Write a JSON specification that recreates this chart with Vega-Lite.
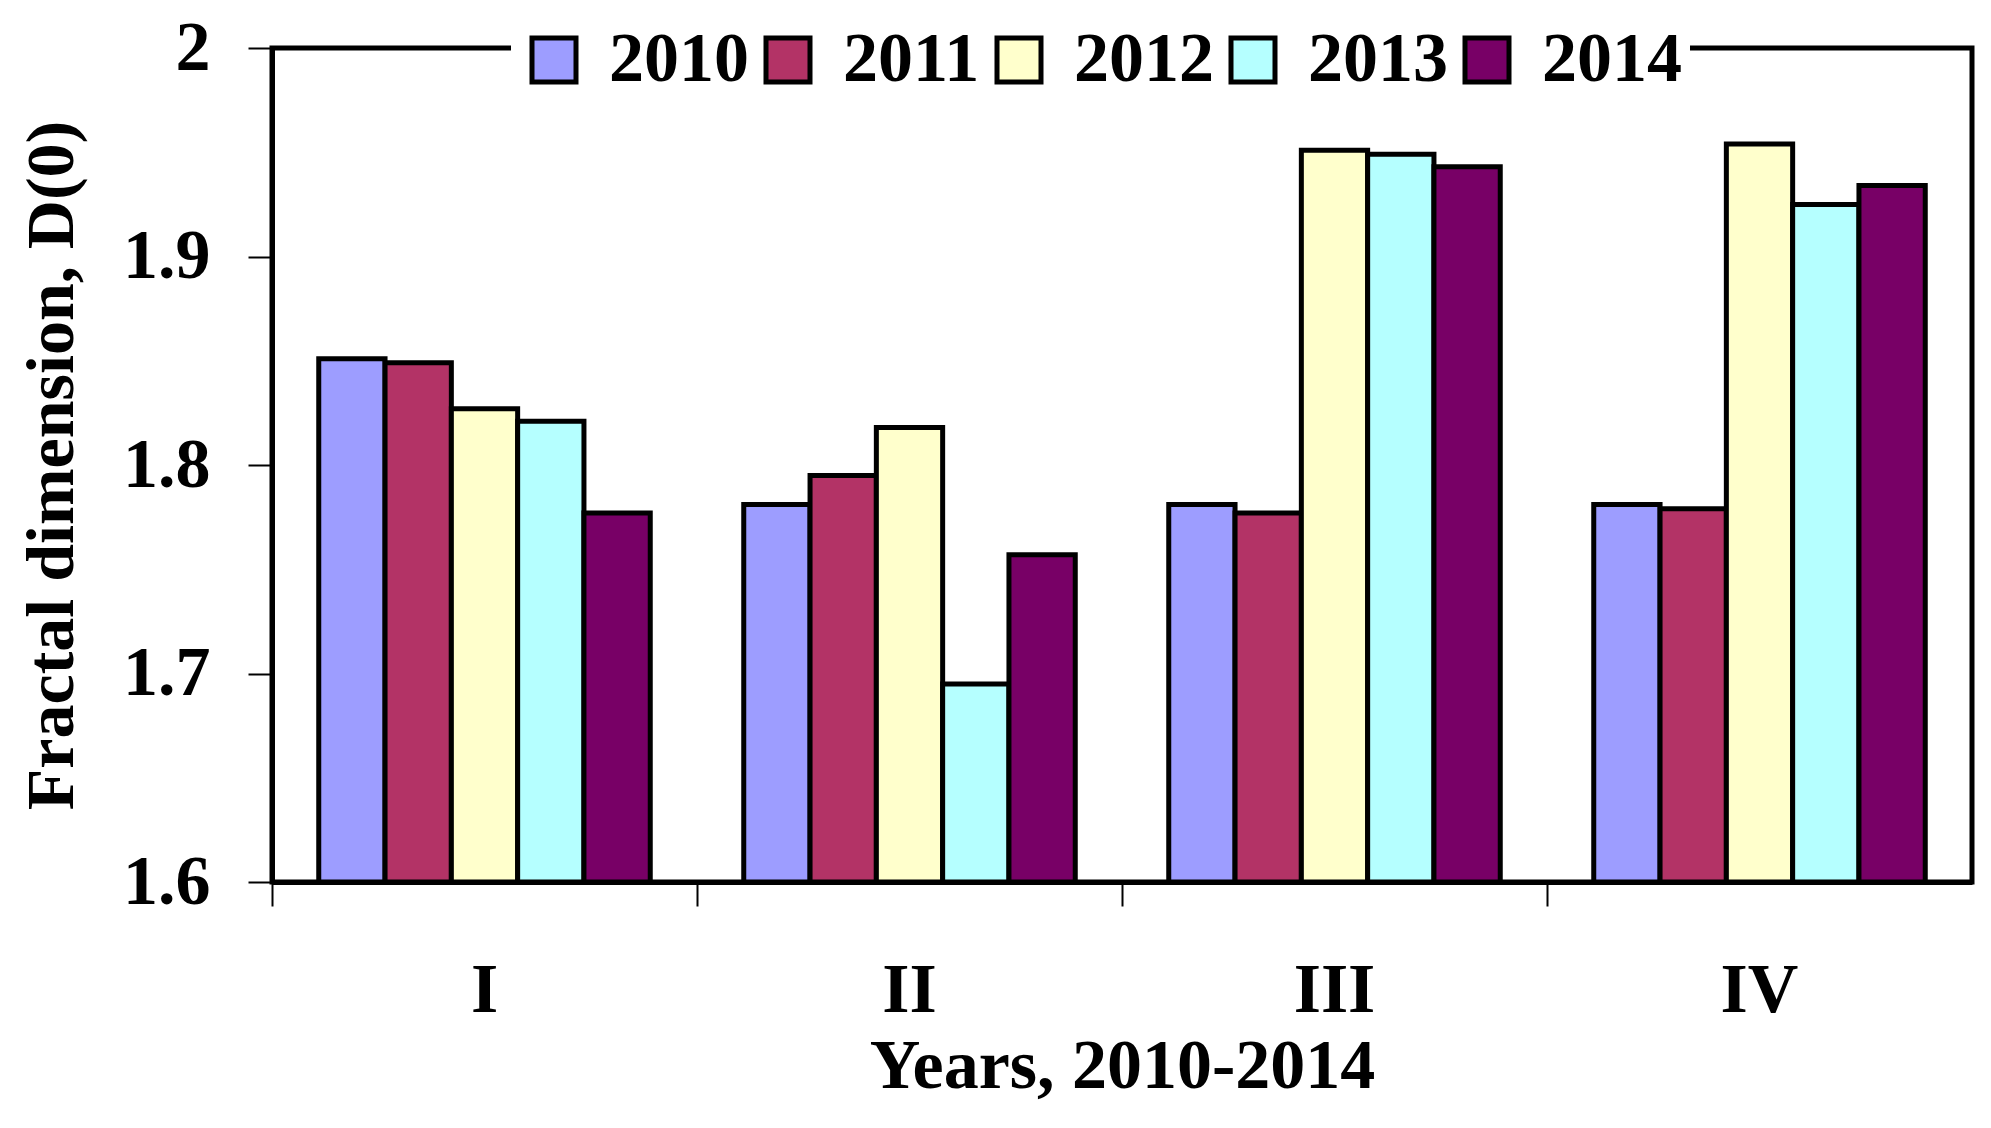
{
  "$schema": "https://vega.github.io/schema/vega-lite/v6.json",
  "autosize": "none",
  "padding": {"left": 272, "top": 48, "right": 19, "bottom": 246},
  "width": 1700,
  "height": 834,
  "background": "white",
  "data": {
    "values": [
      {"group": "I", "year": "2010", "value": 1.851},
      {"group": "I", "year": "2011", "value": 1.849},
      {"group": "I", "year": "2012", "value": 1.827},
      {"group": "I", "year": "2013", "value": 1.821},
      {"group": "I", "year": "2014", "value": 1.777},
      {"group": "II", "year": "2010", "value": 1.781},
      {"group": "II", "year": "2011", "value": 1.795},
      {"group": "II", "year": "2012", "value": 1.818},
      {"group": "II", "year": "2013", "value": 1.695},
      {"group": "II", "year": "2014", "value": 1.757},
      {"group": "III", "year": "2010", "value": 1.781},
      {"group": "III", "year": "2011", "value": 1.777},
      {"group": "III", "year": "2012", "value": 1.951},
      {"group": "III", "year": "2013", "value": 1.949},
      {"group": "III", "year": "2014", "value": 1.943},
      {"group": "IV", "year": "2010", "value": 1.781},
      {"group": "IV", "year": "2011", "value": 1.779},
      {"group": "IV", "year": "2012", "value": 1.954},
      {"group": "IV", "year": "2013", "value": 1.925},
      {"group": "IV", "year": "2014", "value": 1.934}
    ]
  },
  "mark": {"type": "bar", "stroke": "black", "strokeWidth": 5, "clip": true},
  "encoding": {
    "x": {
      "field": "group", "type": "nominal", "sort": ["I", "II", "III", "IV"],
      "scale": {"paddingInner": 0, "paddingOuter": 0},
      "axis": {
        "title": "Years, 2010-2014",
        "labelAngle": 0,
        "bandPosition": 0,
        "labelFont": "Liberation Serif", "labelFontSize": 70, "labelFontWeight": "bold", "labelColor": "black",
        "labelPadding": 50,
        "tickSize": 24, "tickWidth": 2, "tickColor": "black",
        "domainColor": "black", "domainWidth": 5,
        "titleFont": "Liberation Serif", "titleFontSize": 70, "titleFontWeight": "bold", "titleColor": "black",
        "titlePadding": 7
      }
    },
    "xOffset": {
      "field": "year", "type": "nominal",
      "scale": {"paddingInner": 0, "paddingOuter": 0.705}
    },
    "y": {
      "field": "value", "type": "quantitative",
      "scale": {"domain": [1.6, 2.0], "zero": false, "nice": false},
      "axis": {
        "title": "Fractal dimension, D(0)",
        "values": [1.6, 1.7, 1.8, 1.9, 2.0],
        "format": ".1~f",
        "grid": false,
        "labelFont": "Liberation Serif", "labelFontSize": 70, "labelFontWeight": "bold", "labelColor": "black",
        "labelPadding": 38,
        "tickSize": 24, "tickWidth": 2, "tickColor": "black",
        "domainColor": "black", "domainWidth": 5,
        "titleFont": "Liberation Serif", "titleFontSize": 68, "titleFontWeight": "bold", "titleColor": "black",
        "titlePadding": 36
      }
    },
    "y2": {"datum": 1.6},
    "color": {
      "field": "year", "type": "nominal",
      "scale": {"domain": ["2010", "2011", "2012", "2013", "2014"], "range": ["#9D9DFF", "#B33366", "#FFFFCC", "#B5FFFF", "#780066"]},
      "legend": {
        "title": null,
        "orient": "none",
        "legendX": 239,
        "legendY": -31,
        "direction": "horizontal",
        "columns": 5,
        "fillColor": "white",
        "padding": 8,
        "symbolType": "square",
        "symbolSize": 1936,
        "symbolStrokeColor": "black",
        "symbolStrokeWidth": 5,
        "symbolOpacity": 1,
        "labelFont": "Liberation Serif", "labelFontSize": 70, "labelFontWeight": "bold", "labelColor": "black",
        "labelOffset": 20,
        "labelLimit": 400,
        "columnPadding": 4
      }
    }
  },
  "config": {
    "view": {"stroke": "black", "strokeWidth": 5}
  }
}
